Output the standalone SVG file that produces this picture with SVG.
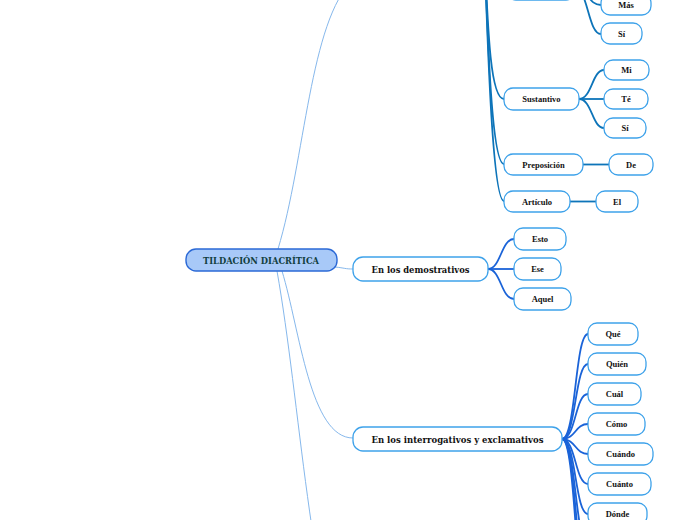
<svg xmlns="http://www.w3.org/2000/svg" width="696" height="520" viewBox="0 0 696 520">
<style>
.l0{fill:none;stroke:#86b8ec;stroke-width:1}
.lt{fill:none;stroke:#0d74b9;stroke-width:1.8}
.ld{fill:none;stroke:#1a63d8;stroke-width:1.8}
.nd{fill:#fff;stroke:#3ea2ea;stroke-width:1.3}
.rt{fill:#a8c9f8;stroke:#2b69d6;stroke-width:1.4}
.tl{font-family:"Liberation Serif","Times New Roman",serif;font-weight:bold;font-size:8.5px;fill:#111;text-anchor:middle}
.ts{font-family:"DejaVu Serif",serif;font-weight:bold;font-size:10px;fill:#111;text-anchor:middle}
.tr{font-family:"DejaVu Serif",serif;font-weight:bold;font-size:10px;fill:#123f3f;text-anchor:middle}
</style>
<g id="connectors">
<path class="l0" d="M278 249 C305 160 310 20 353 -20"/>
<path class="l0" d="M335 267 C345 268 345 269 353 269"/>
<path class="l0" d="M282 271 C300 330 310 438 353 438"/>
<path class="l0" d="M277 271 C300 400 310 600 353 700"/>
<path class="lt" d="M484 -60 C488 -20 492 -12 507 -12"/>
<path class="lt" d="M484 -60 C488 40 491 99 504 99"/>
<path class="lt" d="M484 -60 C488 50 492 164 504 164"/>
<path class="lt" d="M484 -60 C488 60 493 201 504 201"/>
<path class="lt" d="M575 -12 C588 -12 588 5 601 5"/>
<path class="lt" d="M575 -12 C588 -12 588 34 601 34"/>
<path class="lt" d="M579 99 C592 99 592 70 604 70"/>
<path class="lt" d="M579 99 L604 99"/>
<path class="lt" d="M579 99 C592 99 592 128 604 128"/>
<path class="lt" d="M583 164.5 L609 164.5"/>
<path class="lt" d="M570 201.5 L596 201.5"/>
<path class="ld" d="M488 269 C501 269 501 239 514 239"/>
<path class="ld" d="M488 269 L514 269"/>
<path class="ld" d="M488 269 C501 269 501 299 514 299"/>
<path class="ld" d="M562 439 C576 439 575 334 588 334"/>
<path class="ld" d="M562 439 C576 439 575 364 588 364"/>
<path class="ld" d="M562 439 C576 439 575 394 588 394"/>
<path class="ld" d="M562 439 C576 439 575 424 588 424"/>
<path class="ld" d="M562 439 C576 439 575 454 588 454"/>
<path class="ld" d="M562 439 C576 439 575 484 588 484"/>
<path class="ld" d="M562 439 C576 439 575 514 588 514"/>
<path class="ld" d="M562 439 C576 439 575 544 588 544"/>
<path class="ld" d="M562 439 C576 439 575 574 588 574"/>
<path class="ld" d="M562 439 C576 439 575 604 588 604"/>
</g>
<g id="root"><rect class="rt" x="186" y="249" width="151" height="22" rx="10"/><text class="tr" x="261" y="264" textLength="116" lengthAdjust="spacingAndGlyphs">TILDACIÓN DIACRÍTICA</text></g>
<g id="top-hidden"><rect class="nd" x="507" y="-22" width="68" height="22" rx="9"/></g>
<g id="mas"><rect class="nd" x="601" y="-6" width="50" height="21" rx="9"/><text class="tl" x="626" y="8">Más</text></g>
<g id="si1"><rect class="nd" x="601" y="23" width="41" height="21" rx="9"/><text class="tl" x="621.5" y="37">Sí</text></g>
<g id="sustantivo"><rect class="nd" x="504" y="88" width="75" height="22" rx="9"/><text class="tl" x="541.5" y="102">Sustantivo</text></g>
<g id="mi"><rect class="nd" x="604" y="60" width="45" height="20" rx="9"/><text class="tl" x="626.5" y="73">Mi</text></g>
<g id="te"><rect class="nd" x="604" y="89" width="44" height="20" rx="9"/><text class="tl" x="626" y="102">Té</text></g>
<g id="si2"><rect class="nd" x="604" y="118" width="42" height="20" rx="9"/><text class="tl" x="625" y="131">Sí</text></g>
<g id="preposicion"><rect class="nd" x="504" y="154" width="79" height="21" rx="9"/><text class="tl" x="543.5" y="167.5">Preposición</text></g>
<g id="de"><rect class="nd" x="609" y="154" width="44" height="21" rx="9"/><text class="tl" x="631" y="167.5">De</text></g>
<g id="articulo"><rect class="nd" x="504" y="191" width="66" height="21" rx="9"/><text class="tl" x="537" y="204.5">Artículo</text></g>
<g id="el"><rect class="nd" x="596" y="191" width="42" height="21" rx="9"/><text class="tl" x="617" y="204.5">El</text></g>
<g id="demostrativos"><rect class="nd" x="353" y="257" width="135" height="24" rx="10"/><text class="ts" x="420.5" y="272.5" textLength="98" lengthAdjust="spacingAndGlyphs">En los demostrativos</text></g>
<g id="esto"><rect class="nd" x="514" y="228" width="52" height="22" rx="9"/><text class="tl" x="540" y="242">Esto</text></g>
<g id="ese"><rect class="nd" x="514" y="258" width="47" height="22" rx="9"/><text class="tl" x="537.5" y="272">Ese</text></g>
<g id="aquel"><rect class="nd" x="514" y="288" width="57" height="22" rx="9"/><text class="tl" x="542.5" y="302">Aquel</text></g>
<g id="interrogativos"><rect class="nd" x="353" y="427" width="209" height="24" rx="10"/><text class="ts" x="457.5" y="442.5" textLength="172" lengthAdjust="spacingAndGlyphs">En los interrogativos y exclamativos</text></g>
<g id="que"><rect class="nd" x="588" y="323" width="50" height="22" rx="9"/><text class="tl" x="613" y="337">Qué</text></g>
<g id="quien"><rect class="nd" x="588" y="353" width="58" height="22" rx="9"/><text class="tl" x="617" y="367">Quién</text></g>
<g id="cual"><rect class="nd" x="588" y="383" width="53" height="22" rx="9"/><text class="tl" x="614.5" y="397">Cuál</text></g>
<g id="como"><rect class="nd" x="588" y="413" width="57" height="22" rx="9"/><text class="tl" x="616.5" y="427">Cómo</text></g>
<g id="cuando"><rect class="nd" x="588" y="443" width="65" height="22" rx="9"/><text class="tl" x="620.5" y="457">Cuándo</text></g>
<g id="cuanto"><rect class="nd" x="588" y="473" width="63" height="22" rx="9"/><text class="tl" x="619.5" y="487">Cuánto</text></g>
<g id="donde"><rect class="nd" x="588" y="503" width="59" height="22" rx="9"/><text class="tl" x="617.5" y="517">Dónde</text></g>
</svg>
